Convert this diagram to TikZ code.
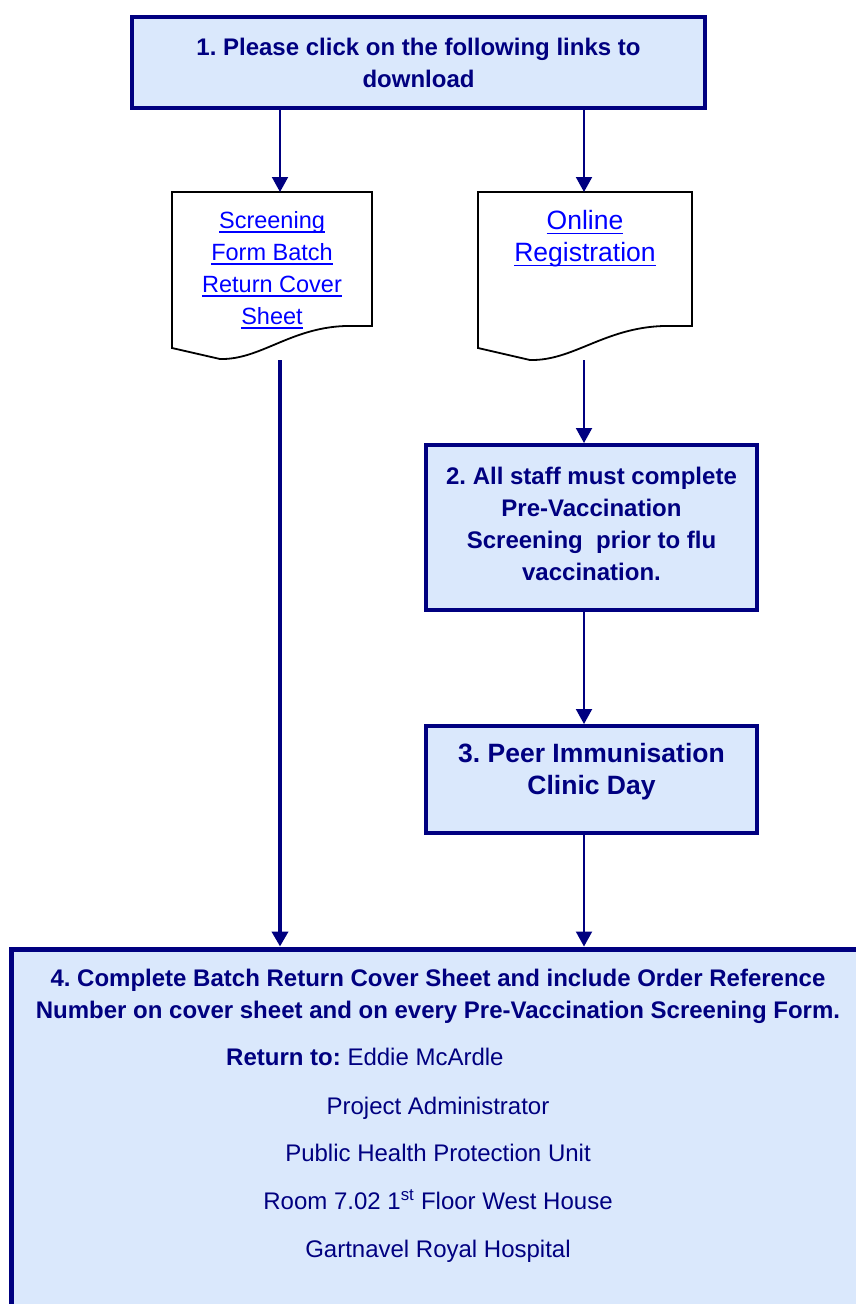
\documentclass[tikz,border=0pt]{standalone}
\usepackage{fontspec}
\setmainfont{Liberation Sans}
\usetikzlibrary{arrows.meta}
\definecolor{navy}{RGB}{0,0,128}
\definecolor{boxfill}{RGB}{218,232,252}
\definecolor{linkblue}{RGB}{0,0,255}
\newcommand{\linkul}[1]{\setbox0\hbox{#1}\rlap{\rule[-4.5pt]{\wd0}{1.6pt}}\box0}
\frenchspacing
\begin{document}
\begin{tikzpicture}[x=1pt,y=-1pt,
  flowbox/.style={draw=navy, line width=4pt, fill=boxfill, inner sep=0pt},
  boldtext/.style={text=navy, font=\bfseries\fontsize{24}{32}\selectfont, align=center, inner sep=0pt},
  bigbold/.style={text=navy, font=\bfseries\fontsize{26.5}{32}\selectfont, align=center, inner sep=0pt},
  plaintext/.style={text=navy, font=\fontsize{24}{32}\selectfont, inner sep=0pt},
  linktext/.style={text=linkblue, align=center, inner sep=0pt},
  docnode/.style={inner sep=0pt, outer sep=0pt, draw=none},
  docline/.style={draw=black, line width=1.8pt, fill=white, line join=miter},
  arr/.style={draw=navy, line width=2pt, -{Triangle[length=15pt,width=16pt]}},
  thickarr/.style={arr, line width=4.5pt}]

\useasboundingbox (0,0) rectangle (856,1304);
\clip (0,0) rectangle (856,1304);

% column coordinates
\coordinate (c1) at (280,0);
\coordinate (c2) at (584,0);
\coordinate (c4) at (438,0);

% box 1
\node[flowbox, minimum width=573pt, minimum height=91pt] (b1) at (418.5,62.5) {};
\node[boldtext, anchor=north] (b1t) at ([yshift=-22.5pt]b1.north) {1. Please click on the following links to\\download};

% document 1
\node[docnode, minimum width=200pt, minimum height=134pt] (d1) at (272,259) {};
\draw[docline] (d1.north west) -- (d1.north east) -- (d1.south east) -- ++(-27,0)
  .. controls +(-55,2) and +(40,1) .. ++(-125,33) -- ([yshift=-22pt]d1.south west) -- cycle;
\node[linktext, font=\fontsize{23.5}{32}\selectfont, anchor=north] (d1t) at ([yshift=-19pt]d1.north)
  {\linkul{Screening}\\\linkul{Form Batch}\\\linkul{Return Cover}\\\linkul{Sheet}};

% document 2
\node[docnode, minimum width=214pt, minimum height=134pt] (d2) at (585,259) {};
\draw[docline] (d2.north west) -- (d2.north east) -- (d2.south east) -- ++(-29,0)
  .. controls +(-59,2) and +(43,1) .. ++(-133,34) -- ([yshift=-22pt]d2.south west) -- cycle;
\node[linktext, font=\fontsize{26.5}{32}\selectfont, anchor=north] (d2t) at ([yshift=-18.5pt]d2.north)
  {\linkul{Online}\\\linkul{Registration}};

% box 2
\node[flowbox, minimum width=331pt, minimum height=165pt] (b2) at (591.5,527.5) {};
\node[boldtext, anchor=north] (b2t) at ([yshift=-23.5pt]b2.north)
  {2. All staff must complete\\Pre-Vaccination\\Screening\ \ prior to flu\\vaccination.};

% box 3
\node[flowbox, minimum width=331pt, minimum height=107pt] (b3) at (591.5,779.5) {};
\node[bigbold, anchor=north] (b3t) at ([yshift=-19.5pt]b3.north) {3. Peer Immunisation\\Clinic Day};

% box 4
\node[flowbox, line width=5pt, minimum width=890pt, minimum height=450pt] (b4) at (456.5,1174) {};
\node[boldtext, anchor=north] (b4t) at ([yshift=-22.5pt]b4.north -| c4)
  {4. Complete Batch Return Cover Sheet and include Order Reference\\Number on cover sheet and on every Pre-Vaccination Screening Form.};
\node[plaintext, anchor=base west] (r1) at (226,1065.5) {\textbf{Return to:} Eddie McArdle};
\node[plaintext, anchor=base] (r2) at (438,1114.5) {Project Administrator};
\node[plaintext, anchor=base] (r3) at (438,1161.5) {Public Health Protection Unit};
\node[plaintext, anchor=base] (r4) at (438,1209.5) {Room 7.02 1\textsuperscript{st} Floor West House};
\node[plaintext, anchor=base] (r5) at (438,1257.5) {Gartnavel Royal Hospital};

% connectors
\coordinate (d1b) at ([yshift=-34pt]d1.south);
\coordinate (d2b) at ([yshift=-34pt]d2.south);
\draw[arr] (b1.south -| c1) -- (d1.north -| c1);
\draw[arr] (b1.south -| c2) -- (d2.north -| c2);
\draw[thickarr] (d1b -| c1) -- (b4.north -| c1);
\draw[arr] (d2b -| c2) -- (b2.north -| c2);
\draw[arr] (b2.south -| c2) -- (b3.north -| c2);
\draw[arr] (b3.south -| c2) -- (b4.north -| c2);
\end{tikzpicture}
\end{document}
